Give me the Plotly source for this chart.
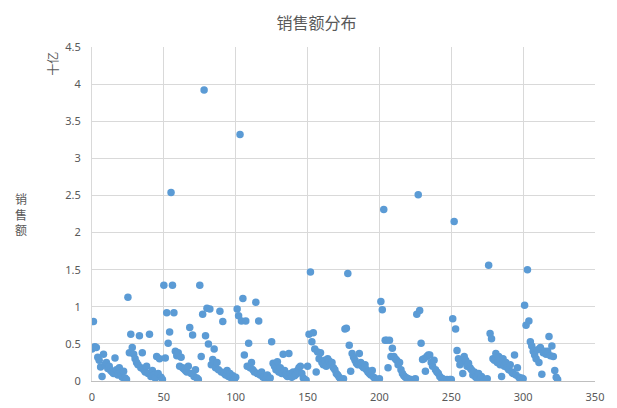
import plotly.graph_objects as go

# Sales values (billions), index 0..324, read group by group (25 points each)
g01 = [0.43, 0.80, 0.46, 0.45, 0.32, 0.28, 0.19, 0.06, 0.36, 0.22, 0.25, 0.17, 0.20,
       0.14, 0.12, 0.10, 0.31, 0.15, 0.08, 0.18, 0.11, 0.05, 0.13, 0.04, 0.02]
g02 = [1.13, 0.38, 0.63, 0.45, 0.36, 0.30, 0.25, 0.22, 0.61, 0.18, 0.38, 0.15, 0.12,
       0.20, 0.10, 0.63, 0.06, 0.14, 0.08, 0.04, 0.33, 0.10, 0.30, 0.05, 0.02]
g03 = [1.29, 0.31, 0.92, 0.51, 0.66, 2.54, 1.29, 0.92, 0.40, 0.34, 0.38, 0.20, 0.32,
       0.18, 0.16, 0.14, 0.12, 0.20, 0.72, 0.10, 0.62, 0.06, 0.15, 0.04, 0.02]
g04 = [1.29, 0.33, 0.90, 3.92, 0.61, 0.98, 0.50, 0.97, 0.22, 0.29, 0.43, 0.18, 0.25,
       0.15, 0.94, 0.12, 0.80, 0.10, 0.08, 0.14, 0.06, 0.10, 0.04, 0.07, 0.02]
g05 = [0.05, 0.97, 0.88, 3.32, 0.81, 1.11, 0.35, 0.81, 0.20, 0.51, 0.18, 0.25, 0.15,
       0.12, 1.06, 0.10, 0.81, 0.08, 0.12, 0.05, 0.06, 0.03, 0.08, 0.02, 0.04]
g06 = [0.53, 0.24, 0.20, 0.15, 0.26, 0.12, 0.18, 0.10, 0.36, 0.14, 0.08, 0.06, 0.37,
       0.10, 0.05, 0.12, 0.07, 0.09, 0.14, 0.18, 0.20, 0.10, 0.04, 0.02, 0.01]
g07 = [0.20, 0.63, 1.47, 0.53, 0.65, 0.43, 0.12, 0.39, 0.30, 0.38, 0.25, 0.22, 0.28,
       0.20, 0.30, 0.27, 0.22, 0.25, 0.18, 0.15, 0.10, 0.08, 0.05, 0.02, 0.01]
g08 = [0.03, 0.70, 0.71, 1.45, 0.48, 0.13, 0.37, 0.32, 0.28, 0.24, 0.22, 0.37, 0.25,
       0.20, 0.18, 0.22, 0.15, 0.12, 0.10, 0.08, 0.14, 0.05, 0.03, 0.02, 0.01]
g09 = [0.03, 1.07, 0.96, 2.31, 0.55, 0.55, 0.18, 0.55, 0.33, 0.44, 0.33, 0.30, 0.28,
       0.22, 0.25, 0.15, 0.10, 0.07, 0.05, 0.04, 0.03, 0.02, 0.02, 0.01, 0.02]
g10 = [0.03, 0.90, 2.51, 0.95, 0.51, 0.29, 0.30, 0.13, 0.33, 0.35, 0.35, 0.25, 0.20,
       0.28, 0.15, 0.12, 0.10, 0.06, 0.04, 0.03, 0.02, 0.01, 0.02, 0.01, 0.02]
g11 = [0.02, 0.84, 2.15, 0.70, 0.41, 0.30, 0.22, 0.25, 0.10, 0.33, 0.28, 0.20, 0.24,
       0.18, 0.15, 0.08, 0.12, 0.05, 0.04, 0.10, 0.02, 0.06, 0.03, 0.01, 0.02]
g12 = [0.03, 1.56, 0.64, 0.57, 0.30, 0.28, 0.37, 0.25, 0.33, 0.22, 0.06, 0.30, 0.20,
       0.25, 0.18, 0.15, 0.22, 0.12, 0.10, 0.35, 0.08, 0.18, 0.05, 0.02, 0.04]
g13 = [0.03, 1.02, 0.75, 1.50, 0.81, 0.53, 0.47, 0.40, 0.35, 0.30, 0.42, 0.25, 0.45,
       0.09, 0.38, 0.40, 0.36, 0.40, 0.60, 0.34, 0.47, 0.33, 0.14, 0.05, 0.02]

sales = g01 + g02 + g03 + g04 + g05 + g06 + g07 + g08 + g09 + g10 + g11 + g12 + g13
index = list(range(len(sales)))

title_text = "销售额分布"
y_title = "销售额"
unit_text = "十亿"
x_ticks = [0, 50, 100, 150, 200, 250, 300, 350]
y_ticks = [0, 0.5, 1, 1.5, 2, 2.5, 3, 3.5, 4, 4.5]

grey = "#595959"
grid = "#d9d9d9"

fig = go.Figure(go.Scatter(
    x=index, y=sales, mode="markers",
    marker=dict(color="#5b9bd5", size=7.5, line=dict(width=0)),
    hoverinfo="x+y",
))

fig.update_layout(
    width=617, height=408,
    margin=dict(l=84, r=30, t=39, b=30),
    paper_bgcolor="white", plot_bgcolor="white",
    showlegend=False,
    font=dict(family="Noto Sans, Noto Sans CJK SC", color=grey, size=11),
    title=dict(text=title_text, x=0.5, xanchor="center", y=0.962, yanchor="middle",
               font=dict(family="Noto Sans CJK SC", size=16, color=grey)),
    xaxis=dict(range=[0, 350], tickvals=x_ticks, showgrid=True, gridcolor=grid,
               gridwidth=1, zeroline=False, showline=True, linecolor="#bfbfbf",
               ticks="", ticklabelstandoff=6, tickfont=dict(size=11, color=grey)),
    yaxis=dict(range=[0, 4.5], tickvals=y_ticks, showgrid=True, gridcolor=grid,
               gridwidth=1, zeroline=False, showline=True, linecolor="#d9d9d9",
               ticks="", ticklabelstandoff=8, tickfont=dict(size=11, color=grey)),
    annotations=[
        dict(text="<br>".join(list(y_title)), xref="paper", yref="paper",
             x=-0.141, y=0.5, xanchor="center", yanchor="middle", showarrow=False,
             font=dict(family="Noto Sans CJK SC", size=12, color=grey)),
        dict(text=unit_text, xref="paper", yref="paper", textangle=-90,
             x=-0.0775, y=0.95, xanchor="center", yanchor="middle", showarrow=False,
             font=dict(family="Noto Sans CJK SC", size=12, color=grey)),
    ],
)

fig.write_html("out.html")
